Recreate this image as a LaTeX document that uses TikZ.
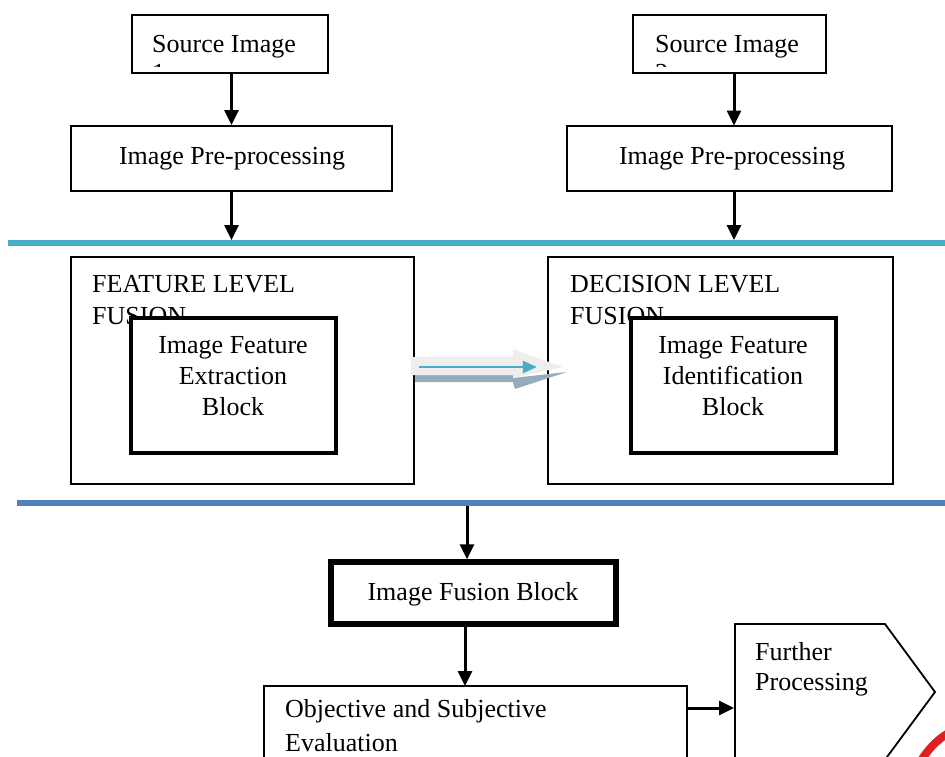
\documentclass[tikz,border=0pt]{standalone}
\usepackage{fontspec}
\setmainfont{Liberation Serif}
\usetikzlibrary{arrows.meta,calc}
\definecolor{cyanline}{HTML}{4BACC6}
\definecolor{blueline}{HTML}{4F81BD}
\definecolor{arrowgray}{HTML}{EEEEEE}
\definecolor{shadowgray}{HTML}{93ADBA}
\definecolor{redmark}{HTML}{E02020}
\begin{document}
\begin{tikzpicture}[x=1pt,y=-1pt,
  box/.style={draw, line width=1.8pt, inner sep=0pt, fill=white},
  thickbox/.style={draw, line width=4pt, inner sep=0pt, fill=white},
  heavybox/.style={draw, line width=5.5pt, inner sep=0pt, fill=white},
  lbl/.style={inner sep=0pt, font=\fontsize{26}{31}\selectfont},
  arr/.style={line width=3pt, -{Triangle[length=15pt,width=14pt]}},
  band/.style={line width=6pt},
]
\useasboundingbox (0,0) rectangle (945,756);

% source boxes
\node[box, minimum width=196pt, minimum height=58pt] (src1) at (230,44) {};
\node[box, minimum width=193pt, minimum height=58pt] (src2) at (729.5,44) {};
\begin{scope}
  \clip (133,16) rectangle (327,66);
  \node[lbl, anchor=base west] (s1t) at (152,52) {Source Image};
  \node[lbl, anchor=base west] (s1n) at (152,81) {1};
\end{scope}
\begin{scope}
  \clip (634,16) rectangle (825,66);
  \node[lbl, anchor=base west] (s2t) at (655,52) {Source Image};
  \node[lbl, anchor=base west] (s2n) at (655,81) {2};
\end{scope}

% pre-processing
\node[box, minimum width=321pt, minimum height=65pt] (pre1) at (231.5,158.5) {};
\node[box, minimum width=325pt, minimum height=65pt] (pre2) at (729.5,158.5) {};
\node[lbl, anchor=base] (p1t) at (232,164) {Image Pre-processing};
\node[lbl, anchor=base] (p2t) at (732,164) {Image Pre-processing};

% bands
\coordinate (cyL) at (8,243);
\coordinate (cyR) at (945,243);
\coordinate (blL) at (17,503);
\coordinate (blR) at (945,503);
\draw[band, cyanline] (cyL) -- (cyR);
\draw[band, blueline] (blL) -- (blR);

\draw[arr] (src1.south -| pre1.north) -- (pre1.north);
\draw[arr] (src2.south -| 734,0) -- (734,125.5) coordinate (p2in);
\coordinate (c1) at (231.5,240);
\coordinate (c2) at (734,240);
\draw[arr] (pre1.south) -- (c1);
\draw[arr] (pre2.south -| c2) -- (c2);

% fusion level boxes
\node[box, minimum width=343pt, minimum height=227pt] (feat) at (242.5,370.5) {};
\node[box, minimum width=345pt, minimum height=227pt] (dec) at (720.5,370.5) {};
\node[lbl, anchor=base west] (ft1) at (92,292) {FEATURE LEVEL};
\node[lbl, anchor=base west] (ft2) at (92,324) {FUSION};
\node[lbl, anchor=base west] (dt1) at (570,292) {DECISION LEVEL};
\node[lbl, anchor=base west] (dt2) at (570,324) {FUSION};

\node[thickbox, minimum width=205pt, minimum height=135pt] (ext) at (233.5,385.5) {};
\node[thickbox, minimum width=205pt, minimum height=135pt] (ident) at (733.5,385.5) {};
\node[lbl, anchor=base] (e1) at (233,353) {Image Feature};
\node[lbl, anchor=base] (e2) at (233,384) {Extraction};
\node[lbl, anchor=base] (e3) at (233,415) {Block};
\node[lbl, anchor=base] (i1) at (733,353) {Image Feature};
\node[lbl, anchor=base] (i2) at (733,384) {Identification};
\node[lbl, anchor=base] (i3) at (733,415) {Block};

% block arrow between the two fusion boxes
\begin{scope}[shift={(feat.east)}]
  \fill[shadowgray] (0,4.5) -- (98,4.5) -- (98,7.5) -- (152,1.5) -- (100,18.5) -- (98,11.5) -- (0,11.5) -- cycle;
  \fill[arrowgray] (-4,-13.5) -- (98,-13.5) -- (98,-21.5) -- (148,-3.5) -- (98,7.5) -- (98,4.5) -- (-4,4.5) -- cycle;
  \draw[cyanline, line width=2.5pt, -{Triangle[length=14pt,width=12pt]}] (4,-3.5) -- (122,-3.5);
\end{scope}

% image fusion block
\node[heavybox, minimum width=285pt, minimum height=62pt] (fusion) at (473.5,593) {};
\node[lbl, anchor=base] (fut) at (473,600) {Image Fusion Block};
\coordinate (b1) at (467,506);
\draw[arr] (b1) -- (b1 |- fusion.north);

% evaluation
\node[box, minimum width=423pt, minimum height=114pt] (eval) at (475.5,743) {};
\node[lbl, anchor=base west] (ev1) at (285,717) {Objective and Subjective};
\node[lbl, anchor=base west] (ev2) at (285,751) {Evaluation};
\draw[arr] (465,625) -- (465,686) coordinate (evin);

% further processing
\draw[line width=1.8pt, fill=white] (735,780) -- (735,624) -- (885,624) -- (935,692) -- (870,780);
\coordinate (furtherW) at (734,708);
\node[lbl, anchor=base west] (fp1) at (755,660) {Further};
\node[lbl, anchor=base west] (fp2) at (755,690) {Processing};
\draw[arr] (furtherW -| eval.east) -- (furtherW);

% red mark at the corner
\draw[redmark, line width=8pt] (920,762) .. controls (928,750) and (935,741) .. (950,732);
\end{tikzpicture}
\end{document}
